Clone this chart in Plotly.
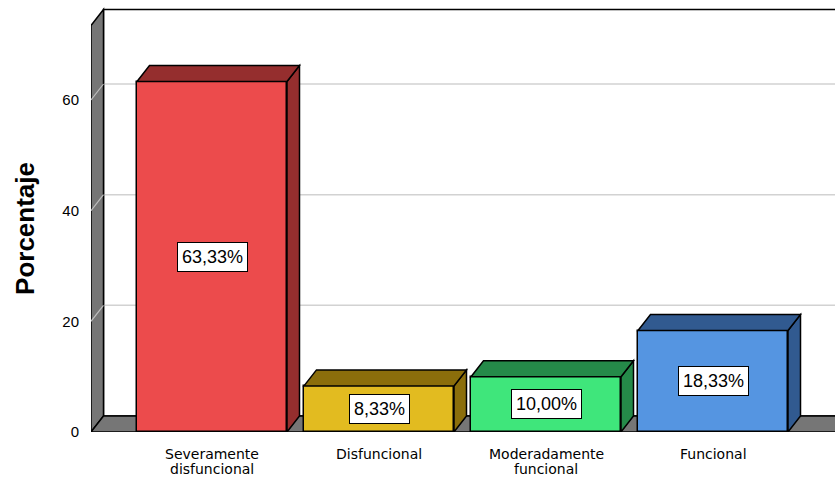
import plotly.graph_objects as go

# Categories, values and ticks
categories = ["Severamente disfuncional", "Disfuncional", "Moderadamente funcional", "Funcional"]
label_lines = [["Severamente", "disfuncional"], ["Disfuncional"], ["Moderadamente", "funcional"], ["Funcional"]]
percent = [63.33, 8.33, 10.00, 18.33]
y_ticks = [0, 20, 40, 60]

front_colors = ["#EC4B4C", "#E2BB20", "#3FE67B", "#5595E1"]
shade_colors = ["#952E2E", "#8B6E0B", "#258A49", "#315A90"]

FONT = "Arial, Liberation Sans, sans-serif"
CAT_FONT = "DejaVu Sans, Verdana, sans-serif"

# Figure geometry (pixels) and the matching data-unit conversions
W, H = 835, 477
ML, MB = 91, 45
PX_Y = 332 / 60          # pixels per percentage point
PX_X = 167               # pixels per category step
Y_MAX = (H - MB) / PX_Y
X_MIN = (ML - 212) / PX_X
X_MAX = X_MIN + (W - ML) / PX_X
DX = 12.5 / PX_X         # depth offset, x
DY = 16 / PX_Y           # depth offset, y
BAR_W = 150 / PX_X
WALL_TOP = (H - MB - 9.5) / PX_Y
XB = X_MIN + DX          # back-left corner x

GREY = "#767676"
GRID = "#D2D2D2"
EDGE = dict(color="black", width=1.5)


def path(points, close=True):
    s = "M " + " L ".join(f"{x},{y}" for x, y in points)
    return s + (" Z" if close else "")


shapes = []
# Back wall
shapes.append(dict(type="path", layer="below", path=path([(XB, DY), (XB, WALL_TOP), (X_MAX + 1, WALL_TOP), (X_MAX + 1, DY)]),
                   fillcolor="white", line=EDGE))
# Gridlines on the back wall
for v in y_ticks[1:]:
    shapes.append(dict(type="line", layer="below", x0=XB, x1=X_MAX + 1, y0=v + DY, y1=v + DY,
                       line=dict(color=GRID, width=1.5)))
# Left side wall
shapes.append(dict(type="path", layer="below",
                   path=path([(X_MIN, 0), (X_MIN, WALL_TOP - DY), (XB, WALL_TOP), (XB, DY)]),
                   fillcolor=GREY, line=EDGE))
for v in y_ticks[1:]:
    shapes.append(dict(type="line", layer="below", x0=X_MIN, x1=XB, y0=v, y1=v + DY,
                       line=dict(color="#BDBDBD", width=1.2)))
# Floor
shapes.append(dict(type="path", layer="below",
                   path=path([(X_MIN, 0), (XB, DY), (X_MAX + 1, DY), (X_MAX + 1, 0)]),
                   fillcolor=GREY, line=EDGE))

# Top and side faces of each bar
for i, v in enumerate(percent):
    x0, x1 = i - BAR_W / 2, i + BAR_W / 2
    shapes.append(dict(type="path", layer="above",
                       path=path([(x1, 0), (x1 + DX, DY), (x1 + DX, v + DY), (x1, v)]),
                       fillcolor=shade_colors[i], line=EDGE))
    shapes.append(dict(type="path", layer="above",
                       path=path([(x0, v), (x0 + DX, v + DY), (x1 + DX, v + DY), (x1, v)]),
                       fillcolor=shade_colors[i], line=EDGE))

fig = go.Figure(go.Bar(
    x=list(range(len(categories))), y=percent, width=BAR_W,
    marker=dict(color=front_colors, line=EDGE),
    hovertext=categories, hoverinfo="text+y",
))

annotations = []
# Value labels
for i, v in enumerate(percent):
    annotations.append(dict(x=i, y=v / 2, xref="x", yref="y", showarrow=False,
                            text=f"{v:.2f}%".replace(".", ","),
                            font=dict(family=FONT, size=18, color="black"),
                            bgcolor="white", bordercolor="black", borderwidth=1, borderpad=4))
# Category labels, one line per annotation for tight line spacing
for i, lines in enumerate(label_lines):
    for k, line in enumerate(lines):
        annotations.append(dict(x=i, y=0, xref="x", yref="paper", yanchor="top", xanchor="center",
                                showarrow=False, yshift=-12 - 15 * k, text=line,
                                font=dict(family=CAT_FONT, size=14, color="black")))
# Axis title
annotations.append(dict(x=(25 - ML) / (W - ML), y=0.47, xref="paper", yref="paper",
                        xanchor="center", yanchor="middle", showarrow=False,
                        text="<b>Porcentaje</b>", textangle=-90,
                        font=dict(family=FONT, size=26, color="black")))

fig.update_layout(
    width=W, height=H,
    margin=dict(l=ML, r=0, t=0, b=MB),
    paper_bgcolor="white", plot_bgcolor="white",
    showlegend=False, bargap=0,
    shapes=shapes, annotations=annotations,
    xaxis=dict(range=[X_MIN, X_MAX], showgrid=False, zeroline=False, showline=False,
               showticklabels=False, ticks="", fixedrange=True),
    yaxis=dict(range=[0, Y_MAX], tickvals=y_ticks, showgrid=False, zeroline=False, showline=False,
               ticks="outside", ticklen=8, tickcolor="rgba(0,0,0,0)",
               tickfont=dict(family=FONT, size=15, color="black"), fixedrange=True),
)

fig.write_html("out.html")
